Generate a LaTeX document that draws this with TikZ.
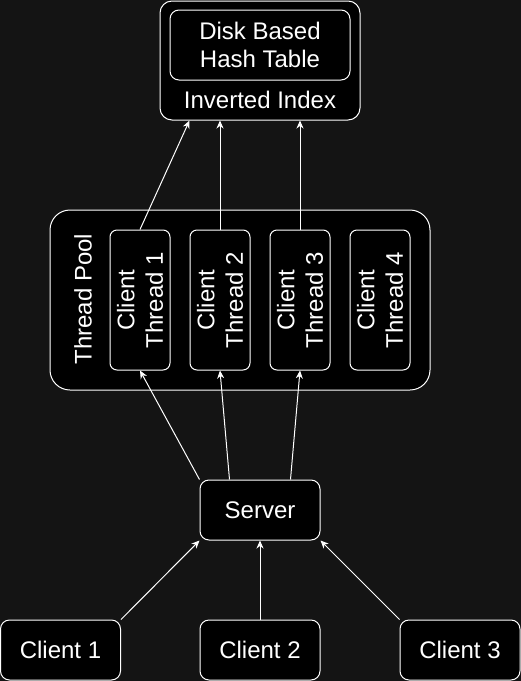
\documentclass[tikz,border=0pt]{standalone}
\usepackage{fontspec}
\setmainfont{Liberation Sans}
\usetikzlibrary{arrows.meta}
\definecolor{bg}{RGB}{20,20,20}

\begin{document}
\begin{tikzpicture}[x=1pt, y=-1pt,
    box/.style={draw=white, fill=black, text=white, line width=1pt,
      rounded corners=9pt, minimum width=120pt, minimum height=60pt,
      inner sep=0pt, font=\fontsize{24}{28.5}\selectfont},
    thread/.style={box, minimum width=60pt, minimum height=140pt, rounded corners=7pt},
    lbl/.style={text=white, inner sep=0pt, align=center, font=\fontsize{24}{28.5}\selectfont},
    arr/.style={draw=white, line width=1pt, -{Stealth[length=8pt, width=7pt, inset=2.5pt]}}]

  \useasboundingbox (0,0) rectangle (521,681);
  \fill[bg] (0,0) rectangle (521,681);

  % index
  \node[box, minimum width=200pt, minimum height=119pt, rounded corners=12pt] (index) at (260,60.5) {};
  \node[box, minimum width=180pt, minimum height=70pt, align=center] (table) at (260,45) {Disk Based\\Hash Table};
  \node[lbl] (indexlbl) at (260,100) {Inverted Index};

  % thread pool
  \node[box, minimum width=380pt, minimum height=180pt, rounded corners=20pt] (pool) at (240,300) {};
  \node[lbl, rotate=90] (poollbl) at (83,299) {Thread Pool};
  \foreach \i/\x in {1/140, 2/220, 3/300, 4/380} {
    \node[thread] (thread\i) at (\x,300) {};
    \node[lbl, rotate=90] (threadlbl\i) at (thread\i) {Client\\Thread \i};
  }

  % server and clients
  \node[box] (server) at (260,510) {Server};
  \node[box] (client1) at (60.5,650) {Client 1};
  \node[box] (client2) at (260,650) {Client 2};
  \node[box] (client3) at (460,650) {Client 3};

  \draw[arr] (client1.north east) -- (server.south west);
  \draw[arr] (client2) -- (server);
  \draw[arr] (client3.north west) -- (server.south east);

  \draw[arr] (server.north west) -- (thread1.south);
  \draw[arr] ([xshift=30pt]server.north west) -- (thread2.south);
  \draw[arr] ([xshift=-30pt]server.north east) -- (thread3.south);

  \draw[arr] (thread1.north) -- ([xshift=30pt]index.south west);
  \draw[arr] (thread2.north) -- ([xshift=-40pt]index.south);
  \draw[arr] (thread3.north) -- ([xshift=40pt]index.south);
\end{tikzpicture}
\end{document}
